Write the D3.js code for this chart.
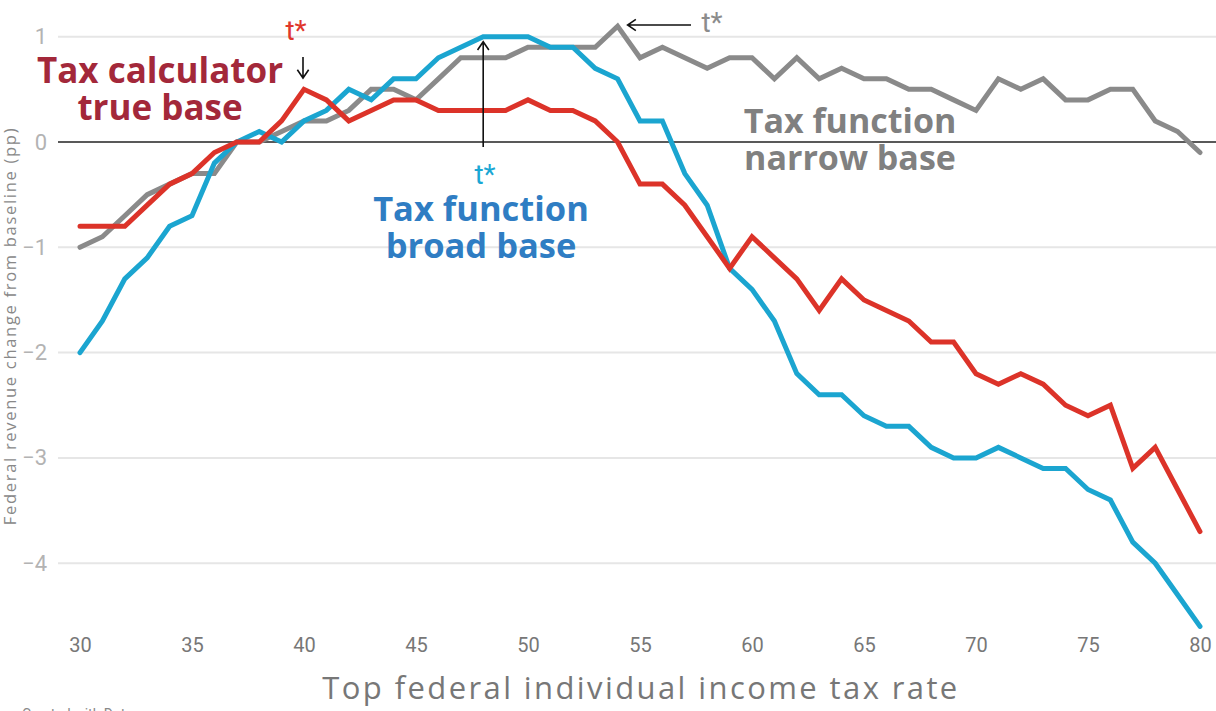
<!DOCTYPE html>
<html>
<head>
<meta charset="utf-8">
<script src="https://cdn.jsdelivr.net/npm/d3@7"></script>
<style>
  body { margin: 0; background: #fff; }
  svg { display: block; font-family: Roboto, "Noto Sans", sans-serif; }
</style>
</head>
<body>
<svg id="chart" width="1216" height="711"></svg>
<script>
// top federal rate, 30..80
const rates = d3.range(30, 81);

// revenue change from baseline (pp)
const trueBase = [
  -0.8, -0.8, -0.8, -0.6, -0.4, -0.3, -0.1, 0, 0, 0.2,
  0.5, 0.4, 0.2, 0.3, 0.4, 0.4, 0.3, 0.3, 0.3, 0.3,
  0.4, 0.3, 0.3, 0.2, 0, -0.4, -0.4, -0.6, -0.9, -1.2,
  -0.9, -1.1, -1.3, -1.6, -1.3, -1.5, -1.6, -1.7, -1.9, -1.9,
  -2.2, -2.3, -2.2, -2.3, -2.5, -2.6, -2.5, -3.1, -2.9, -3.3,
  -3.7
];
const broadBase = [
  -2.0, -1.7, -1.3, -1.1, -0.8, -0.7, -0.2, 0, 0.1, 0,
  0.2, 0.3, 0.5, 0.4, 0.6, 0.6, 0.8, 0.9, 1.0, 1.0,
  1.0, 0.9, 0.9, 0.7, 0.6, 0.2, 0.2, -0.3, -0.6, -1.2,
  -1.4, -1.7, -2.2, -2.4, -2.4, -2.6, -2.7, -2.7, -2.9, -3.0,
  -3.0, -2.9, -3.0, -3.1, -3.1, -3.3, -3.4, -3.8, -4.0, -4.3,
  -4.6
];
const narrowBase = [
  -1.0, -0.9, -0.7, -0.5, -0.4, -0.3, -0.3, 0, 0, 0.1,
  0.2, 0.2, 0.3, 0.5, 0.5, 0.4, 0.6, 0.8, 0.8, 0.8,
  0.9, 0.9, 0.9, 0.9, 1.1, 0.8, 0.9, 0.8, 0.7, 0.8,
  0.8, 0.6, 0.8, 0.6, 0.7, 0.6, 0.6, 0.5, 0.5, 0.4,
  0.3, 0.6, 0.5, 0.6, 0.4, 0.4, 0.5, 0.5, 0.2, 0.1,
  -0.1
];

const xTicks = [30, 35, 40, 45, 50, 55, 60, 65, 70, 75, 80];
const yTicks = [-4, -3, -2, -1, 0, 1];

// t* for each series
const tStarTrue = 40, tStarBroad = 48, tStarNarrow = 54;

const svg = d3.select("#chart");

const x = d3.scaleLinear().domain([30, 80]).range([80, 1200]);
const y = d3.scaleLinear().domain([0, 1]).range([142, 36.7]);

// grid
svg.append("g")
  .selectAll("line")
  .data(yTicks)
  .join("line")
  .attr("x1", 58)
  .attr("x2", 1216)
  .attr("y1", d => y(d))
  .attr("y2", d => y(d))
  .attr("stroke", d => d === 0 ? "#222" : "#e6e6e6")
  .attr("stroke-width", d => d === 0 ? 1.5 : 2);

// y axis labels
const yAxis = svg.append("g")
  .attr("transform", "translate(47,0)")
  .call(d3.axisLeft(y).tickValues(yTicks).tickSize(0).tickPadding(0).tickFormat(d3.format("d")));
yAxis.select(".domain").remove();
yAxis.selectAll("text")
  .style("font-family", "Roboto")
  .style("font-size", "22px")
  .style("fill", "#b3b3b3");

// x axis labels
const xAxis = svg.append("g")
  .attr("transform", "translate(0,638)")
  .call(d3.axisBottom(x).tickValues(xTicks).tickSize(0).tickPadding(0));
xAxis.select(".domain").remove();
xAxis.selectAll("text")
  .style("font-family", "Roboto")
  .style("font-size", "20px")
  .style("fill", "#777");

// axis titles
svg.append("text")
  .attr("transform", "translate(16,326) rotate(-90)")
  .attr("text-anchor", "middle")
  .style("font-family", "'Open Sans'")
  .style("font-size", "16.5px")
  .style("letter-spacing", "1.7px")
  .style("fill", "#888")
  .text("Federal revenue change from baseline (pp)");

svg.append("text")
  .attr("x", 641)
  .attr("y", 699)
  .attr("text-anchor", "middle")
  .style("font-family", "'Open Sans'")
  .style("font-size", "31px")
  .style("letter-spacing", "2.4px")
  .style("fill", "#777")
  .text("Top federal individual income tax rate");

svg.append("text")
  .attr("x", 22)
  .attr("y", 719)
  .style("font-size", "14px")
  .style("fill", "#888")
  .text("Created with Datawrapper");

// lines
const line = d3.line().x((d, i) => x(rates[i])).y(d => y(d));

const series = [
  { values: narrowBase, color: "#8a8a8a" },
  { values: broadBase, color: "#1ba5d0" },
  { values: trueBase, color: "#dc3329" }
];

series.forEach(s => {
  svg.append("path")
    .datum(s.values)
    .attr("fill", "none")
    .attr("stroke", s.color)
    .attr("stroke-width", 5)
    .attr("stroke-linejoin", "miter")
    .attr("stroke-linecap", "round")
    .attr("d", line);
});

// arrows
function arrow(x1, y1, x2, y2) {
  const a = Math.atan2(y2 - y1, x2 - x1);
  const h = 10, w = 0.6;
  svg.append("path")
    .attr("fill", "none")
    .attr("stroke", "#111")
    .attr("stroke-width", 1.6)
    .attr("d",
      `M${x1},${y1}L${x2},${y2}` +
      `M${x2 - h * Math.cos(a - w)},${y2 - h * Math.sin(a - w)}L${x2},${y2}` +
      `L${x2 - h * Math.cos(a + w)},${y2 - h * Math.sin(a + w)}`);
}
arrow(x(tStarTrue) - 1, 57, x(tStarTrue) - 1, 78);
arrow(x(tStarBroad), y(0) + 5, x(tStarBroad), y(1) + 5);
arrow(691, 25, x(tStarNarrow) + 10, 25);

// labels
function label(tx, ty, lines, color, size, weight, lh, fam) {
  const t = svg.append("text")
    .attr("x", tx)
    .attr("y", ty)
    .attr("text-anchor", "middle")
    .style("font-family", fam)
    .style("font-size", size + "px")
    .style("font-weight", weight)
    .style("fill", color);
  lines.forEach((l, i) => {
    t.append("tspan").attr("x", tx).attr("dy", i ? lh : 0).text(l);
  });
}

const bold = "'Open Sans'";
label(296, 40, ["t*"], "#e0372d", 28, 400, 0, "Roboto");
label(160, 83, ["Tax calculator", "true base"], "#a3283a", 35, 700, 37, bold);

label(485, 184, ["t*"], "#1aa7d4", 28, 400, 0, "Roboto");
label(481, 221, ["Tax function", "broad base"], "#2f7dc3", 34.5, 700, 37, bold);

label(712, 32, ["t*"], "#8c8c8c", 28, 400, 0, "Roboto");
label(850, 133, ["Tax function", "narrow base"], "#808080", 34, 700, 37, bold);
</script>
</body>
</html>
